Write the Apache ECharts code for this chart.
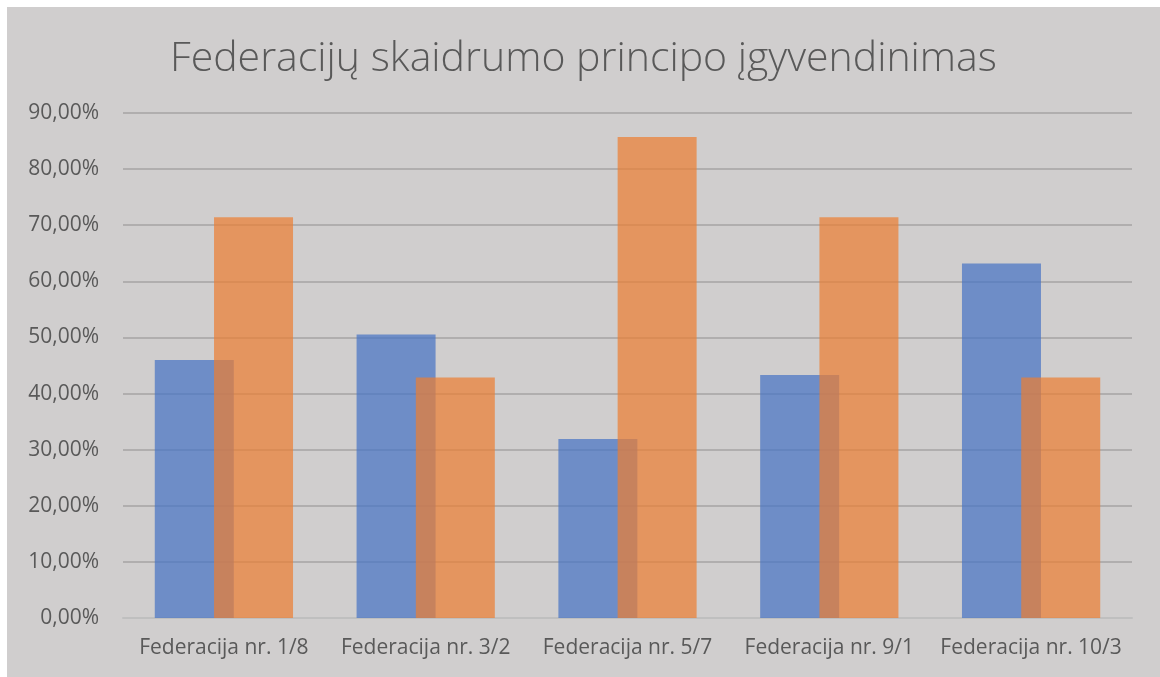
<!DOCTYPE html>
<html>
<head>
<meta charset="utf-8">
<script src="https://cdn.jsdelivr.net/npm/echarts@6/dist/echarts.min.js"></script>
<style>
  html, body { margin: 0; padding: 0; background: #fff; }
  #chart { position: absolute; left: 7px; top: 7px; width: 1153px; height: 670px; }
</style>
</head>
<body>
<div id="chart"></div>
<script>
// duomenys
var categories = ['Federacija nr. 1/8', 'Federacija nr. 3/2', 'Federacija nr. 5/7', 'Federacija nr. 9/1', 'Federacija nr. 10/3'];
var seriesA = [45.96, 50.54, 31.9, 43.3, 63.2];
var seriesB = [71.43, 42.86, 85.71, 71.43, 42.86];

var chart = echarts.init(document.getElementById('chart'));
var option = {
  backgroundColor: '#d0cece',
  animation: false,
  title: {
    text: 'Federacijų skaidrumo principo įgyvendinimas',
    left: 'center',
    top: 27,
    textStyle: {
      color: '#595959',
      fontFamily: 'Open Sans',
      fontWeight: 300,
      fontSize: 41
    }
  },
  grid: {
    left: 116,
    right: 28,
    top: 106,
    bottom: 59
  },
  xAxis: {
    type: 'category',
    data: categories,
    axisTick: { show: false },
    axisLine: { lineStyle: { color: '#bfbfbf', width: 2 } },
    axisLabel: {
      interval: 0,
      color: '#595959',
      fontFamily: 'Open Sans',
      fontSize: 21,
      margin: 20
    }
  },
  yAxis: {
    type: 'value',
    min: 0,
    max: 90,
    interval: 10,
    axisLine: { show: false },
    axisTick: { show: false },
    splitLine: { lineStyle: { color: '#b0aeae', width: 2 } },
    axisLabel: {
      color: '#595959',
      fontFamily: 'Open Sans',
      fontSize: 21,
      margin: 24,
      formatter: function (v) {
        return v.toFixed(2).replace('.', ',') + '%';
      }
    }
  },
  series: [
    {
      name: 'A',
      type: 'bar',
      data: seriesA,
      barWidth: 79,
      barGap: '-25%',
      itemStyle: { color: 'rgba(68,114,196,0.7)' }
    },
    {
      name: 'B',
      type: 'bar',
      data: seriesB,
      barWidth: 79,
      barGap: '-25%',
      itemStyle: { color: 'rgba(237,125,49,0.7)' }
    }
  ]
};
chart.setOption(option);
</script>
</body>
</html>
